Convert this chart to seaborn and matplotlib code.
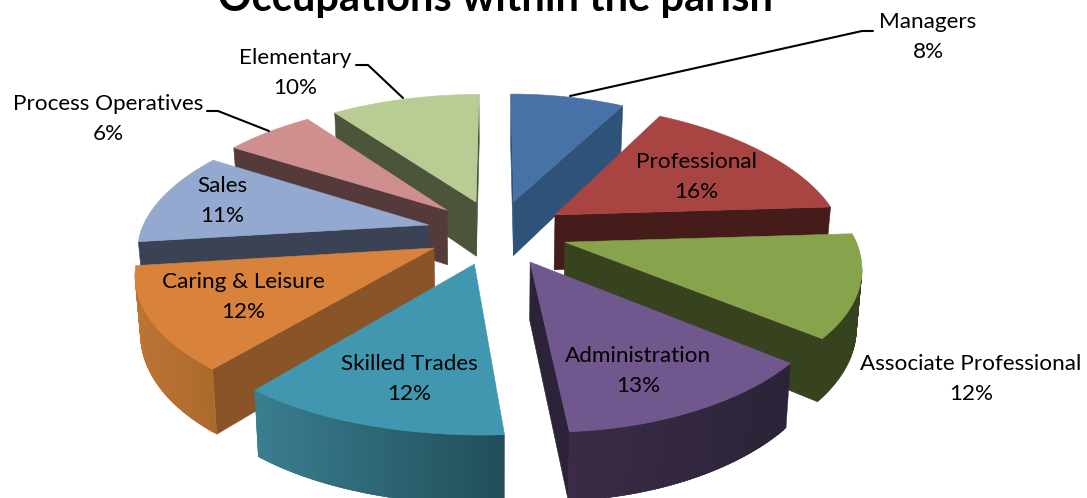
import numpy as np
import matplotlib
matplotlib.use('Agg')
import matplotlib.pyplot as plt
import seaborn as sns

occupations = ['Managers', 'Professional', 'Associate Professional', 'Administration',
               'Skilled Trades', 'Caring & Leisure', 'Sales', 'Process Operatives', 'Elementary']
shares = [8, 16, 12, 13, 12, 12, 11, 6, 10]

top_colors = ['#4672A8', '#A84543', '#87A44D', '#70578E', '#4197AF', '#D8823C', '#93A9CF', '#CF8F8E', '#B8CC94']
radial_colors = ['#2F5278', '#451C1A', '#37431E', '#2C2339', '#2A5F6E', '#885428', '#3B4254', '#543A3A', '#4C543A']
arc_left_colors = ['#2F5278', '#451C1A', '#37431E', '#3B2C46', '#3A7E90', '#BD7434', '#3B4254', '#543A3A', '#4C543A']
arc_right_colors = ['#2F5278', '#451C1A', '#37431E', '#2B2338', '#214F5A', '#AD6A2E', '#3B4254', '#543A3A', '#4C543A']

# label centres and leader lines, in pixels of the picture
label_xy = [(928, 37), (696, 177), (971, 379), (638, 371), (409, 379),
            (243, 297), (222, 201), (108, 119), (295, 73)]
leaders = {0: [(570, 96), (862, 31), (873, 31)],
           7: [(269, 131), (218, 111), (207, 111)],
           8: [(403, 98), (368, 65), (356, 65)]}

# view of the tilted pie
cx, cy = 497, 232
rad_x, rad_y = 288, 133
persp = 0.156
explode = 0.245
depth = 56


def project(x, y, lower=False):
    w = 1 + persp * y
    back = 0.05 if x > 0 else 0.012
    sx = rad_x * x / w * (1 - back * max(y, 0))
    # the front of the original leans a little to the right
    sx += 13 * np.exp(-(x / 0.5) ** 2) * min(max(-y - 0.3, 0), 1)
    sy = cy - rad_y * y / w
    if lower:
        return cx + sx * 0.985, sy + depth / w
    return cx + sx, sy


sns.set_theme(style='white')
plt.rcParams['font.family'] = ['Lato', 'DejaVu Sans']

fig, ax = plt.subplots(figsize=(10.87, 4.98), dpi=100)
ax.set_position([0, 0, 1, 1])
ax.set_xlim(0, 1087)
ax.set_ylim(498, 0)
ax.axis('off')

edges = np.cumsum([0] + shares) / sum(shares) * 2 * np.pi
mids = (edges[:-1] + edges[1:]) / 2

# back slices first so the front ones paint over them
order = sorted(range(len(shares)), key=lambda k: -np.cos(mids[k]))
for rank, i in enumerate(order):
    ex = explode * np.sin(mids[i])
    ey = explode * np.cos(mids[i])
    theta = np.linspace(edges[i], edges[i + 1], 60)
    rim_x = ex + np.sin(theta)
    rim_y = ey + np.cos(theta)

    top_rim = [project(a, b) for a, b in zip(rim_x, rim_y)]
    low_rim = [project(a, b, True) for a, b in zip(rim_x, rim_y)]
    apex = project(ex, ey)
    low_apex = project(ex, ey, True)

    # flat side walls
    start_wall = [apex, top_rim[0], low_rim[0], low_apex]
    end_wall = [apex, top_rim[-1], low_rim[-1], low_apex]
    if top_rim[0][0] < apex[0]:
        ax.fill(*zip(*start_wall), color=radial_colors[i], lw=0.4, zorder=rank)
    if top_rim[-1][0] > apex[0]:
        ax.fill(*zip(*end_wall), color=radial_colors[i], lw=0.4, zorder=rank)

    # curved outer wall, only where it faces the viewer
    left = np.array(matplotlib.colors.to_rgb(arc_left_colors[i]))
    right = np.array(matplotlib.colors.to_rgb(arc_right_colors[i]))
    xs = np.array([p[0] for p in top_rim])
    for k in range(len(top_rim) - 1):
        if top_rim[k + 1][0] < top_rim[k][0]:
            f = (xs[k] - xs.min()) / max(xs.max() - xs.min(), 1)
            # each strip runs under the next one so no seams show
            m = min(k + 2, len(top_rim) - 1)
            quad = [top_rim[k], top_rim[m], low_rim[m], low_rim[k]]
            ax.fill(*zip(*quad), color=left + (right - left) * f, lw=0.3, zorder=rank)

    ax.fill(*zip(*([apex] + top_rim)), color=top_colors[i], lw=0.4, zorder=rank)

for i, name in enumerate(occupations):
    ax.text(label_xy[i][0], label_xy[i][1], f'{name}\n{shares[i]}%', ha='center', va='center',
            fontsize=16.2, color='black', linespacing=1.68, zorder=50)

for pts in leaders.values():
    ax.plot(*zip(*pts), color='black', lw=1.5, zorder=40)

ax.text(496, 11, 'Occupations within the parish', ha='center', va='baseline',
        fontsize=30, fontweight='bold', color='black', zorder=50)

fig.savefig('out.png', dpi=100)
